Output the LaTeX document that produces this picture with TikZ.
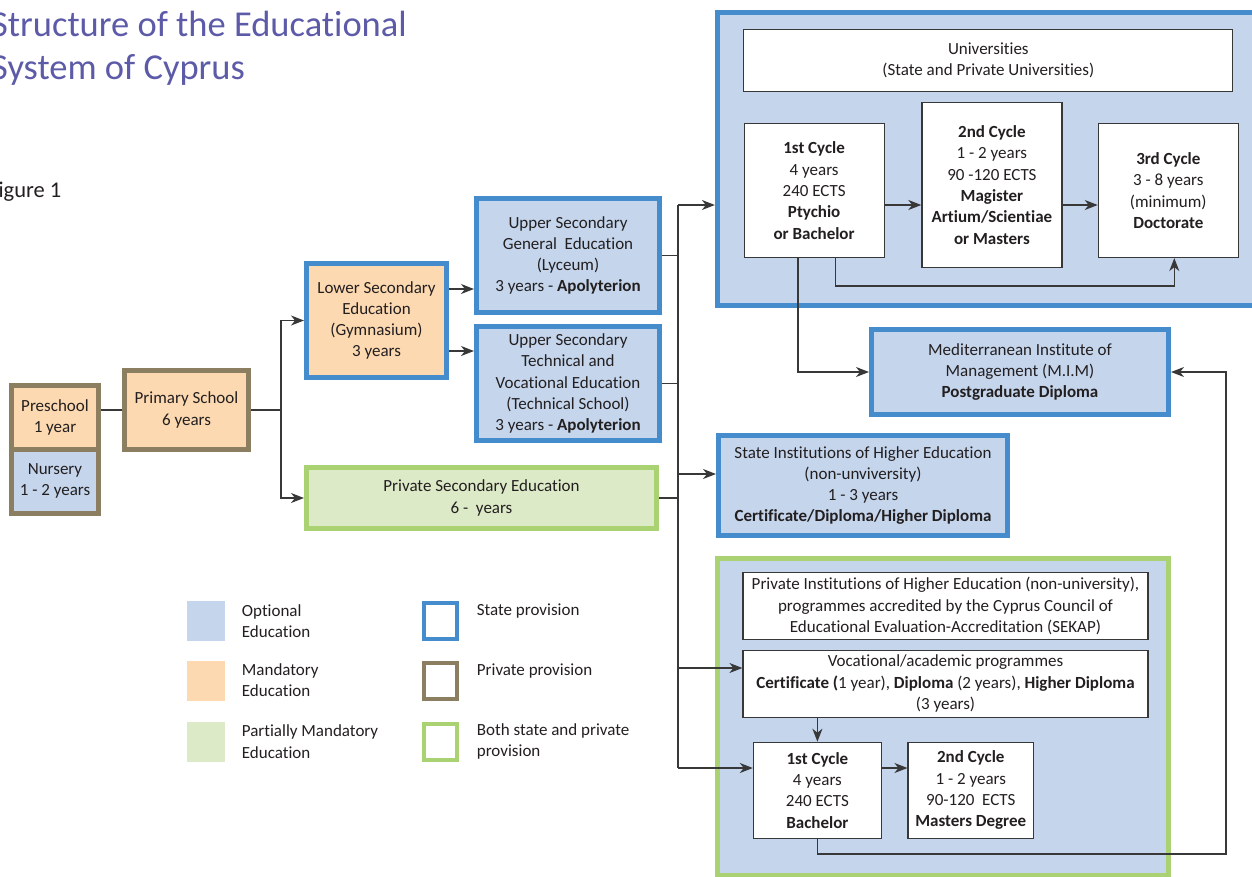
\documentclass[tikz,border=0pt]{standalone}
\usepackage{fontspec}
\setmainfont{Carlito}[Ligatures=NoCommon]
\usetikzlibrary{arrows.meta}

\definecolor{optblue}{HTML}{C4D5EC}
\definecolor{mandorange}{HTML}{FCD9B1}
\definecolor{partgreen}{HTML}{DDEAC7}
\definecolor{stateblue}{HTML}{448CCB}
\definecolor{privbrown}{HTML}{8C7E60}
\definecolor{bothgreen}{HTML}{AAD273}
\definecolor{titlepurple}{HTML}{5D5BA8}
\definecolor{ink}{HTML}{231F20}
\definecolor{linegray}{HTML}{383838}

\tikzset{
  box/.style={align=center, inner sep=0pt, text=ink},
  statebox/.style={box, draw=stateblue, line width=5pt},
  privbox/.style={box, draw=privbrown, line width=5pt},
  bothbox/.style={box, draw=bothgreen, line width=5pt},
  inbox/.style={box, draw=linegray, line width=1.2pt, fill=white},
  sz/.style 2 args={minimum width=#1, minimum height=#2},
  wire/.style={draw=linegray, line width=1.4pt},
  arr/.style={wire, -{Stealth[length=13pt,width=10pt,inset=4pt]}},
  lgtext/.style={anchor=west, align=left, inner sep=0pt, text=ink},
}

\begin{document}
\begin{tikzpicture}[x=1pt, y=-1pt, font=\fontsize{17pt}{21.3pt}\selectfont]
\useasboundingbox (0,0) rectangle (1252,876);

\node[anchor=north west, align=left, inner sep=0pt, text=titlepurple,
      font=\fontsize{36.5pt}{43pt}\selectfont] (title) at (-9,11)
      {Structure of the Educational\\System of Cyprus};
\node[anchor=base west, inner sep=0pt, text=ink,
      font=\fontsize{22.5pt}{25pt}\selectfont] (fig) at (-12,197) {Figure 1};

\node[privbox, fill=mandorange, sz={87pt}{63.5pt}] (pre) at (55,417.25) {Preschool\\1 year};
\node[privbox, fill=optblue, sz={87pt}{64.5pt}] (nur) at (55,481.25) {Nursery\\1 - 2 years};
\node[privbox, fill=mandorange, sz={124pt}{79pt}] (prim) at (186.5,410) {Primary School\\6 years};
\node[statebox, fill=mandorange, sz={140pt}{114pt}] (lsec) at (376.5,320.5)
  {Lower Secondary\\Education\\(Gymnasium)\\3 years};
\node[statebox, fill=optblue, sz={183pt}{114pt}] (ugen) at (568,255.5)
  {Upper Secondary\\General\ \ Education\\(Lyceum)\\3 years - \textbf{Apolyterion}};
\node[statebox, fill=optblue, sz={183pt}{114pt}] (utech) at (568,383.5)
  {Upper Secondary\\Technical and\\Vocational Education\\(Technical School)\\3 years - \textbf{Apolyterion}};
\node[bothbox, fill=partgreen, sz={350pt}{61pt}] (psec) at (481.5,498)
  {Private Secondary Education\\6 -\ \ years};

\node[statebox, fill=optblue, sz={570pt}{293pt}] (univ) at (1002.4,159) {};
\node[inbox, sz={489pt}{62pt}] (unitop) at (988.3,60.2)
  {Universities\\(State and Private Universities)};
\node[inbox, sz={140pt}{134pt}] (u1) at (814.1,190.5)
  {\textbf{1st Cycle}\\4 years\\240 ECTS\\\textbf{Ptychio}\\\textbf{or Bachelor}};
\node[inbox, sz={140pt}{165pt}] (u2) at (991.9,185)
  {\textbf{2nd Cycle}\\1 - 2 years\\90 -120 ECTS\\\textbf{Magister}\\\textbf{Artium/Scientiae}\\\textbf{or Masters}};
\node[inbox, sz={140pt}{134pt}] (u3) at (1168.3,190.5)
  {\textbf{3rd Cycle}\\3 - 8 years\\(minimum)\\\textbf{Doctorate}};

\node[statebox, fill=optblue, sz={297pt}{85pt}] (mim) at (1020,372)
  {Mediterranean Institute of\\Management (M.I.M)\\\textbf{Postgraduate Diploma}};
\node[statebox, fill=optblue, sz={289pt}{100pt}] (sinst) at (863,485.5)
  {State Institutions of Higher Education\\(non-unviversity)\\1 - 3 years\\\textbf{Certificate/Diploma/Higher Diploma}};

\node[bothbox, fill=optblue, sz={451pt}{317pt}] (phe) at (942.9,717) {};
\node[inbox, sz={405pt}{66.6pt}] (ptop) at (945.5,606)
  {Private Institutions of Higher Education (non-university),\\programmes accredited by the Cyprus Council of\\Educational Evaluation-Accreditation (SEKAP)};
\node[inbox, sz={405pt}{67pt}] (voc) at (945.5,683.7)
  {Vocational/academic programmes\\\textbf{Certificate (}1 year), \textbf{Diploma} (2 years), \textbf{Higher Diploma}\\(3 years)};
\node[inbox, sz={128pt}{96pt}] (p1) at (817.4,790.3)
  {\textbf{1st Cycle}\\4 years\\240 ECTS\\\textbf{Bachelor}};
\node[inbox, sz={125.5pt}{96pt}] (p2) at (970.8,790.3)
  {\textbf{2nd Cycle}\\1 - 2 years\\90-120\ \ ECTS\\\textbf{Masters Degree}};

\coordinate (fork) at (281,410);
\coordinate (trunk) at (678,205);
\coordinate (trunkend) at (678,768);

\draw[wire] (prim.west -| pre.east) -- (prim.west);
\draw[wire] (prim.east) -- (fork);
\draw[arr] (fork) |- (lsec.west);
\draw[arr] (fork) |- (psec.west);
\draw[arr] (lsec.east |- 0,289) -- (ugen.west |- 0,289);
\draw[arr] (lsec.east |- 0,351) -- (utech.west |- 0,351);

\draw[wire] (trunk) -- (trunkend);
\draw[wire] (ugen.east) -- (ugen.east -| trunk);
\draw[wire] (utech.east) -- (utech.east -| trunk);
\draw[wire] (psec.east) -- (psec.east -| trunk);
\draw[arr] (trunk) -- (trunk -| univ.west);
\draw[arr] (trunk |- 0,474) -- (sinst.west |- 0,474);
\draw[arr] (trunk |- 0,668) -- (voc.west |- 0,668);
\draw[arr] (trunkend) -- (trunkend -| p1.west);

\draw[arr] (u1.east |- 0,205) -- (u2.west |- 0,205);
\draw[arr] (u2.east |- 0,205) -- (u3.west |- 0,205);
\draw[arr] (835.6,0 |- u1.south) -- (835.6,286) -| (1174.3,0 |- u3.south);
\draw[arr] (797.9,0 |- u1.south) |- (mim.west);
\draw[arr] (p1.south) |- (1226,854) |- (mim.east);
\draw[arr] (voc.south -| p1.south) -- (p1.north);
\draw[arr] (p1.east |- 0,768) -- (p2.west |- 0,768);

\node[fill=optblue, inner sep=0pt, sz={38pt}{40pt}] (lgopt) at (206,621) {};
\node[fill=mandorange, inner sep=0pt, sz={38pt}{40pt}] (lgman) at (206,681) {};
\node[fill=partgreen, inner sep=0pt, sz={38pt}{40pt}] (lgpart) at (206,741.7) {};
\node[lgtext] (lgopttxt) at (241.7,621.3) {Optional\\Education};
\node[lgtext] (lgmantxt) at (241.7,680.3) {Mandatory\\Education};
\node[lgtext] (lgparttxt) at (241.7,741.5) {Partially Mandatory\\Education};

\node[draw=stateblue, line width=4pt, inner sep=0pt, sz={33pt}{36pt}] (lgstate) at (440.2,621) {};
\node[draw=privbrown, line width=4pt, inner sep=0pt, sz={33pt}{36pt}] (lgpriv) at (440.2,681) {};
\node[draw=bothgreen, line width=4pt, inner sep=0pt, sz={33pt}{36pt}] (lgboth) at (440.2,741.7) {};
\node[lgtext] (lgstatetxt) at (476.7,611) {State provision};
\node[lgtext] (lgprivtxt) at (476.7,671) {Private provision};
\node[lgtext] (lgbothtxt) at (476.7,741.5) {Both state and private\\provision};
\end{tikzpicture}
\end{document}
